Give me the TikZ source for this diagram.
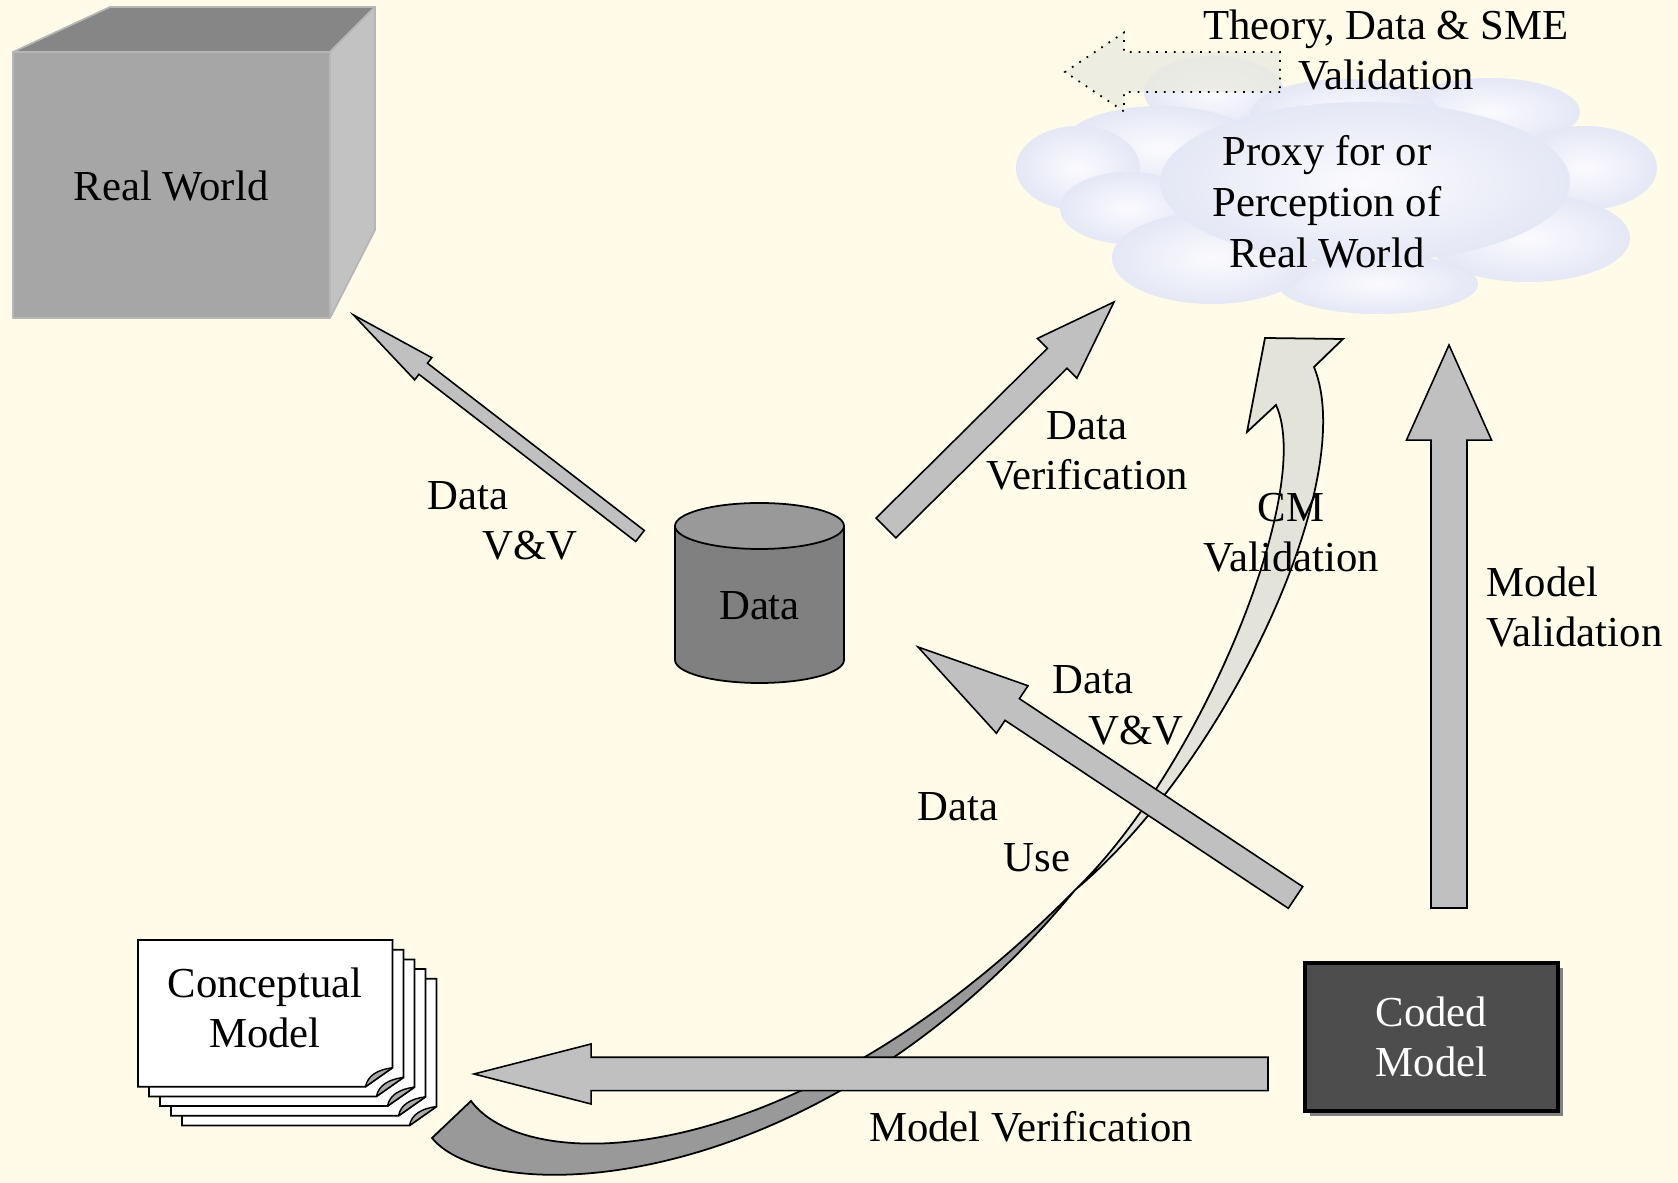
\documentclass[tikz,border=0pt]{standalone}
\usepackage{fontspec}
\setmainfont{Liberation Serif}
\usetikzlibrary{calc}
\definecolor{bgcol}{RGB}{255,251,232}
\definecolor{arrgray}{RGB}{192,192,192}
\definecolor{cubefront}{RGB}{166,166,166}
\definecolor{cubetop}{RGB}{134,134,134}
\definecolor{cubeside}{RGB}{194,194,194}
\definecolor{cubeedge}{RGB}{182,182,182}
\definecolor{cylbody}{RGB}{128,128,128}
\definecolor{cyltop}{RGB}{153,153,153}
\definecolor{codedgray}{RGB}{77,77,77}
\definecolor{shadowgray}{RGB}{128,128,128}
\definecolor{darkband}{RGB}{153,153,153}
\definecolor{lightband}{RGB}{227,227,217}
\definecolor{cloudin}{RGB}{251,251,254}
\definecolor{cloudout}{RGB}{228,231,245}
\definecolor{dotfill}{RGB}{234,234,224}
\definecolor{foldgray}{RGB}{170,170,170}
% block arrow: #1 style, #2 tail coordinate, #3 tip coordinate,
% #4 shaft half width, #5 head half width, #6 head length
\newcommand\blockarrow[6]{%
  \coordinate (#2-n) at ($(#3)!#6!(#2)$);
  \filldraw[#1] ($(#2)!#4!90:(#3)$) -- ($(#2-n)!#4!90:(#3)$) -- ($(#2-n)!#5!90:(#3)$)
    -- (#3) -- ($(#2-n)!#5!-90:(#3)$) -- ($(#2-n)!#4!-90:(#3)$) -- ($(#2)!#4!-90:(#3)$) -- cycle;}
\begin{document}
\begin{tikzpicture}[x=0.01cm,y=-0.01cm,
  font=\fontsize{12.15}{14}\selectfont,
  arr/.style={fill=arrgray,draw=black,line width=0.45pt,line join=miter},
  dotarr/.style={fill=dotfill,fill opacity=0.8,draw=black,dotted,line width=0.5pt},
  lbl/.style={inner sep=0pt,anchor=base},
  lbll/.style={inner sep=0pt,anchor=base west},
  cubeface/.style={draw=cubeedge,line width=0.5pt,line join=round},
  page/.style={fill=white,draw=black,line width=0.5pt,line join=miter}]
\path[fill=bgcol,use as bounding box] (0,0) rectangle (1678,1183);

% ---------- cloud ----------
\foreach \cx/\cy/\rx/\ry in {1214/92/70/36,1490/112/90/34,1345/115/95/36,1160/148/100/42,
  1585/168/72/42,1078/168/62/42,1128/208/68/36,1528/238/102/44,1378/284/100/30,
  1212/258/100/46,1365/182/205/80}
  \shade[inner color=cloudin,outer color=cloudout] (\cx,\cy) ellipse [x radius=\rx,y radius=\ry];

% dotted arrow (Theory, Data & SME Validation)
\coordinate (thvt) at (1280,72);
\coordinate (thvh) at (1065,72);
\blockarrow{dotarr}{thvt}{thvh}{0.2cm}{0.395cm}{0.59cm}
\node[lbl] (theory1) at (1386,40) {Theory, Data \& SME};
\node[lbl] (theory2) at (1386,90) {Validation};
\node[lbl] (proxy1) at (1327,166) {Proxy for or};
\node[lbl] (proxy2) at (1327,217) {Perception of};
\node[lbl] (proxy3) at (1327,268) {Real World};

% ---------- real world cube ----------
\filldraw[cubeface,fill=cubetop] (13,52) -- (110,7) -- (375,7) -- (330,52) -- cycle;
\filldraw[cubeface,fill=cubeside] (330,52) -- (375,7) -- (375,230) -- (330,318) -- cycle;
\filldraw[cubeface,fill=cubefront] (13,52) rectangle (330,318);
\node[lbl] (realworld) at (171,201) {Real World};

% ---------- curved CM validation arrow ----------
\coordinate (cTa) at (471,1101);
\coordinate (cTb) at (432,1138);
\coordinate (cTw) at (1075,890);
\coordinate (cNl) at (1276,405);
\coordinate (cBl) at (1247,432);
\coordinate (cTip) at (1265,338);
\coordinate (cBr) at (1343,339);
\coordinate (cNr) at (1314,367);
\filldraw[fill=darkband,draw=black,line width=0.5pt,line join=miter]
  (cTa) .. controls (530,1180) and (800,1170) .. (cTw)
  .. controls (820,1200) and (490,1210) .. (cTb) -- cycle;
\filldraw[fill=lightband,draw=black,line width=0.5pt,line join=miter]
  (cTw) .. controls (1200,770) and (1315,490) .. (cNl) -- (cBl) -- (cTip) -- (cBr) -- (cNr)
  .. controls (1360,480) and (1225,765) .. (cTw) -- cycle;

% ---------- straight block arrows ----------
\coordinate (dvvAt) at (640,536);
\coordinate (dvvAh) at (353.5,315);
\blockarrow{arr}{dvvAt}{dvvAh}{0.07cm}{0.14cm}{0.88cm}
\coordinate (dvert) at (886,528);
\coordinate (dverh) at (1114,302);
\blockarrow{arr}{dvert}{dverh}{0.14cm}{0.28cm}{0.80cm}
\coordinate (dvvBt) at (1295.5,897.5);
\coordinate (dvvBh) at (918,647);
\blockarrow{arr}{dvvBt}{dvvBh}{0.13cm}{0.285cm}{1.13cm}
\coordinate (mvalt) at (1449,908);
\coordinate (mvalh) at (1449,345);
\blockarrow{arr}{mvalt}{mvalh}{0.18cm}{0.425cm}{0.95cm}
\coordinate (mvert) at (1268,1074);
\coordinate (mverh) at (474,1074);
\blockarrow{arr}{mvert}{mverh}{0.167cm}{0.30cm}{1.17cm}

% ---------- data cylinder ----------
\fill[cylbody] (759.5,660) ellipse [x radius=84.5,y radius=23];
\fill[cylbody] (675,526) rectangle (844,660);
\draw[line width=0.5pt] (675,526) -- (675,660) (844,526) -- (844,660);
\begin{scope}
  \clip (600,660) rectangle (900,720);
  \draw[line width=0.5pt] (759.5,660) ellipse [x radius=84.5,y radius=23];
\end{scope}
\filldraw[fill=cyltop,draw=black,line width=0.5pt] (759.5,526) ellipse [x radius=84.5,y radius=23];
\node[lbl] (data) at (759.5,620) {Data};

% ---------- conceptual model stack ----------
\foreach \k in {4,3,2,1,0}{
  \pgfmathsetmacro\xa{138+11*\k}
  \pgfmathsetmacro\ya{940+9.7*\k}
  \pgfmathsetmacro\xb{\xa+254.5}
  \pgfmathsetmacro\yb{\ya+146.7}
  \filldraw[page] (\xa,\ya) -- (\xb,\ya) -- (\xb,\yb-19) -- (\xb-27,\yb) -- (\xa,\yb) -- cycle;
  \filldraw[fill=foldgray,draw=black,line width=0.4pt,line join=round]
    (\xb-27,\yb) .. controls (\xb-25,\yb-11) and (\xb-15,\yb-17) .. (\xb,\yb-19) -- cycle;
}
\node[lbl] (cm1) at (265,998) {Conceptual};
\node[lbl] (cm2) at (265,1048) {Model};

% ---------- coded model ----------
\fill[shadowgray] (1310,968) rectangle (1563,1116);
\node[draw=black,line width=1pt,fill=codedgray,minimum width=2.53cm,minimum height=1.48cm,
  inner sep=0pt,align=center,text=white] (coded) at (1431.5,1037) {Coded\\Model};

% ---------- labels ----------
\node[lbll] (ldvvA1) at (427,510) {Data};
\node[lbll] (ldvvA2) at (481.5,560) {V\&V};
\node[lbl] (ldver1) at (1087,440) {Data};
\node[lbl] (ldver2) at (1087,490) {Verification};
\node[lbll] (ldvvB1) at (1052,694) {Data};
\node[lbll] (ldvvB2) at (1088,745) {V\&V};
\node[lbll] (luse1) at (917,821) {Data};
\node[lbll] (luse2) at (1003,872) {Use};
\node[lbl] (lcmv1) at (1291,522) {CM};
\node[lbl] (lcmv2) at (1291,572) {Validation};
\node[lbll] (lmval1) at (1486,597) {Model};
\node[lbll] (lmval2) at (1486,647) {Validation};
\node[lbl] (lmver) at (1031,1142) {Model Verification};
\end{tikzpicture}
\end{document}
